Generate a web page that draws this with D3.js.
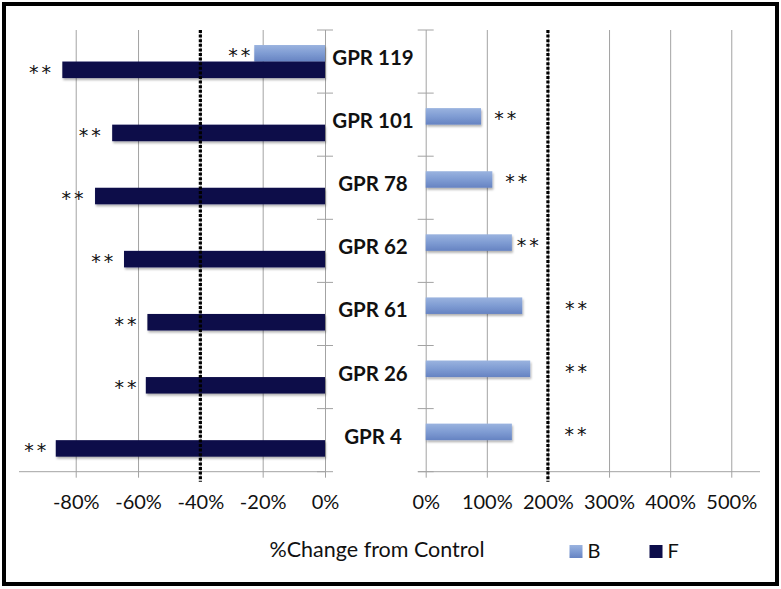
<!DOCTYPE html>
<html>
<head>
<meta charset="utf-8">
<script src="https://cdn.jsdelivr.net/npm/d3@7"></script>
<style>
  body { margin: 0; background: #fff; }
  text { font-family: Lato, "Open Sans", sans-serif; fill: #111; }
</style>
</head>
<body>
<div id="chart"></div>
<script>
// values (% change from control)
var categories = ["GPR 119", "GPR 101", "GPR 78", "GPR 62", "GPR 61", "GPR 26", "GPR 4"];
var seriesNames = ["B", "F"];
var valuesB = [-22.7, 90.5, 109, 141, 158, 171, 141];
var valuesF = [-84.3, -68.3, -73.8, -64.5, -57, -57.5, -86.4];
// where the "**" marks sit, in % units
var starsB = [-23, 112, 130, 149, 228, 228, 227];
var starsF = [-87, -71, -76.5, -67, -59.5, -59.5, -88.5];
var leftTicks = [-80, -60, -40, -20, 0];
var rightTicks = [0, 100, 200, 300, 400, 500];
var leftCutoff = -40, rightCutoff = 200;

var w = 781, h = 589;
var plotTop = 30, plotBottom = 471.7;
var colorF = "#0c0d4a";

var svg = d3.select("#chart").append("svg")
  .attr("width", w)
  .attr("height", h);

var defs = svg.append("defs");
var gB = defs.append("linearGradient").attr("id", "gradB")
  .attr("x1", 0).attr("y1", 0).attr("x2", 0).attr("y2", 1);
gB.append("stop").attr("offset", "0%").attr("stop-color", "#9ab3df");
gB.append("stop").attr("offset", "50%").attr("stop-color", "#7f9cd3");
gB.append("stop").attr("offset", "100%").attr("stop-color", "#6683c2");
var shadow = defs.append("filter").attr("id", "shadow")
  .attr("x", "-10%").attr("y", "-30%").attr("width", "130%").attr("height", "180%");
shadow.append("feDropShadow").attr("dx", 1).attr("dy", 2).attr("stdDeviation", 1.2)
  .attr("flood-color", "#000").attr("flood-opacity", 0.3);

// outer frame
svg.append("rect")
  .attr("x", 4).attr("y", 4)
  .attr("width", 773).attr("height", 580)
  .attr("fill", "none")
  .attr("stroke", "#000")
  .attr("stroke-width", 4);

var yScale = d3.scaleBand().domain(categories).range([plotTop, plotBottom]);
var subScale = d3.scaleBand().domain(seriesNames)
  .range([yScale.bandwidth() * 0.238, yScale.bandwidth() * 0.762]);
var xL = d3.scaleLinear().domain([-98.2, 0]).range([19, 325]);
var xR = d3.scaleLinear().domain([0, 547]).range([425.7, 760]);

var data = categories.map((c, i) => ({cat: c, B: valuesB[i], F: valuesF[i], sB: starsB[i], sF: starsF[i]}));

function panel(xScale, ticks, cutoff, zeroX, lineStart, lineEnd, side) {
  var g = svg.append("g");
  // gridlines + tick labels
  var axis = d3.axisBottom(xScale)
    .tickValues(ticks)
    .tickFormat(d => d + "%")
    .tickSize(-(plotBottom + 6 - plotTop))
    .tickSizeOuter(0)
    .tickPadding(17);
  var ax = g.append("g")
    .attr("class", "axis")
    .attr("transform", "translate(0," + (plotBottom + 6) + ")")
    .call(axis);
  ax.select(".domain").remove();
  ax.selectAll("line").attr("stroke", "#a3a3a3").attr("stroke-width", 1);
  ax.selectAll("text").attr("font-size", "20px");
  // horizontal axis line
  g.append("line")
    .attr("x1", lineStart).attr("x2", lineEnd)
    .attr("y1", plotBottom).attr("y2", plotBottom)
    .attr("stroke", "#a3a3a3");
  // category tick crosses on the zero axis
  var bounds = categories.map(c => yScale(c)).concat([plotBottom]);
  g.selectAll(".cattick").data(bounds).enter().append("line")
    .attr("x1", zeroX - 8).attr("x2", zeroX + 8)
    .attr("y1", d => d).attr("y2", d => d)
    .attr("stroke", "#a3a3a3");
  // bars
  seriesNames.forEach(s => {
    g.selectAll(".bar" + s).data(data).enter().append("rect")
      .attr("x", d => side < 0 ? xScale(Math.min(d[s], 0)) : xScale(0))
      .attr("width", d => side < 0 ? xScale(0) - xScale(Math.min(d[s], 0)) : xScale(Math.max(d[s], 0)) - xScale(0))
      .attr("y", d => yScale(d.cat) + subScale(s))
      .attr("height", subScale.bandwidth())
      .attr("fill", s === "B" ? "url(#gradB)" : colorF)
      .attr("filter", "url(#shadow)");
  });
  // dotted cutoff line
  g.append("line")
    .attr("x1", xScale(cutoff)).attr("x2", xScale(cutoff))
    .attr("y1", plotTop).attr("y2", plotBottom + 10)
    .attr("stroke", "#000")
    .attr("stroke-width", 3.2)
    .attr("stroke-dasharray", "3,1.6");
  return g;
}

var left = panel(xL, leftTicks, leftCutoff, 325, 19, 325, -1);
var right = panel(xR, rightTicks, rightCutoff, 425.7, 418, 760, 1);

// "**" significance marks
seriesNames.forEach(s => {
  var key = "s" + s;
  svg.selectAll(".star" + s).data(data.filter(d => d[key] !== null)).enter().append("text")
    .attr("x", d => d[key] < 0 ? xL(d[key]) : xR(d[key]))
    .attr("y", d => yScale(d.cat) + subScale(s) + subScale.bandwidth() / 2 + 9)
    .attr("text-anchor", d => d[key] < 0 ? "end" : "start")
    .style("font-family", "'DejaVu Sans', sans-serif")
    .style("font-size", "19px")
    .style("letter-spacing", "3px")
    .text("**");
});

// category labels in the middle
svg.selectAll(".cat").data(categories).enter().append("text")
  .attr("x", 373)
  .attr("y", d => yScale(d) + yScale.bandwidth() / 2 + 3.5)
  .attr("text-anchor", "middle")
  .attr("font-size", "20.5px")
  .attr("font-weight", "bold")
  .text(d => d);

// axis title
svg.append("text")
  .attr("x", 377).attr("y", 557)
  .attr("text-anchor", "middle")
  .attr("font-size", "21.5px")
  .text("%Change from Control");

// legend
var legend = svg.append("g");
var legendX = [569.5, 649.5];
seriesNames.forEach((s, i) => {
  legend.append("rect")
    .attr("x", legendX[i]).attr("y", 545)
    .attr("width", 13).attr("height", 13)
    .attr("fill", s === "B" ? "url(#gradB)" : colorF);
  legend.append("text")
    .attr("x", legendX[i] + 18).attr("y", 557.5)
    .attr("font-size", "20px")
    .text(s);
});
</script>
</body>
</html>
